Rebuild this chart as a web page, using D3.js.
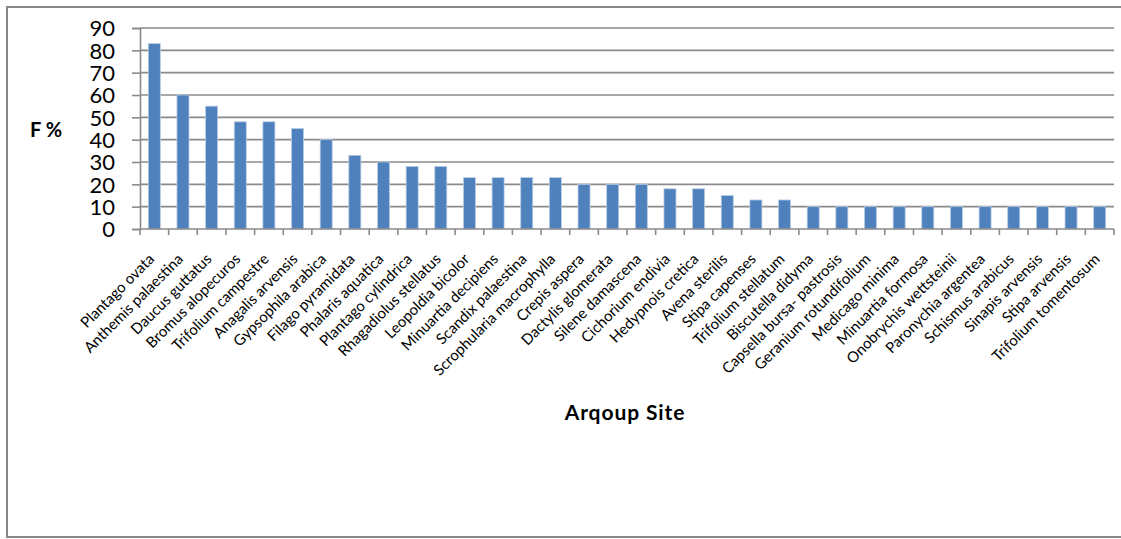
<!DOCTYPE html>
<html>
<head>
<meta charset="utf-8">
<script src="https://cdn.jsdelivr.net/npm/d3@7"></script>
<style>
  html, body { margin: 0; padding: 0; background: #fff; }
  svg { display: block; }
</style>
</head>
<body>
<svg id="chart" width="1121" height="539"></svg>
<script>
// Species recorded at the Arqoup site and their frequency (F %)
const species = [
  "Plantago ovata", "Anthemis palaestina", "Daucus guttatus", "Bromus alopecuros",
  "Trifolium campestre", "Anagalis arvensis", "Gypsophila arabica", "Filago pyramidata",
  "Phalaris aquatica", "Plantago cylindrica", "Rhagadiolus stellatus", "Leopoldia bicolor",
  "Minuartia decipiens", "Scandix palaestina", "Scrophularia macrophylla", "Crepis aspera",
  "Dactylis glomerata", "Silene damascena", "Cichorium endivia", "Hedypnois cretica",
  "Avena sterilis", "Stipa capenses", "Trifolium stellatum", "Biscutella didyma",
  "Capsella bursa- pastrosis", "Geranium rotundifolium", "Medicago minima", "Minuartia formosa",
  "Onobrychis wettsteinii", "Paronychia argentea", "Schismus arabicus", "Sinapis arvensis",
  "Stipa arvensis", "Trifolium tomentosum"
];
const frequency = [
  83, 60, 55, 48,
  48, 45, 40, 33,
  30, 28, 28, 23,
  23, 23, 23, 20,
  20, 20, 18, 18,
  15, 13, 13, 10,
  10, 10, 10, 10,
  10, 10, 10, 10,
  10, 10
];
const yTicks = [0, 10, 20, 30, 40, 50, 60, 70, 80, 90];

const svg = d3.select("#chart");
const font = "Lato, 'Open Sans', sans-serif";
const gridColor = "#8a8a8a";

// outer chart frame
svg.append("rect")
  .attr("x", 7).attr("y", 7)
  .attr("width", 1125).attr("height", 530)
  .attr("fill", "#fff")
  .attr("stroke", "#878787").attr("stroke-width", 2);

const plot = { left: 140, right: 1114, top: 28, bottom: 229 };

const x = d3.scaleBand()
  .domain(species)
  .range([plot.left, plot.right])
  .paddingInner(0.58).paddingOuter(0.29);

const y = d3.scaleLinear()
  .domain([0, 90])
  .range([plot.bottom, plot.top]);

// horizontal gridlines
svg.append("g")
  .selectAll("line")
  .data(yTicks.filter(d => d > 0))
  .join("line")
  .attr("x1", plot.left).attr("x2", plot.right)
  .attr("y1", d => y(d)).attr("y2", d => y(d))
  .attr("stroke", gridColor).attr("stroke-width", 1.6);

// bars
svg.append("g")
  .selectAll("rect")
  .data(frequency)
  .join("rect")
  .attr("x", (d, i) => x(species[i]))
  .attr("y", d => y(d))
  .attr("width", x.bandwidth())
  .attr("height", d => y(0) - y(d))
  .attr("fill", "#4f81bd")
  .attr("stroke", "#b9cde5")
  .attr("stroke-width", 0.8);

// y axis
const yAxis = d3.axisLeft(y)
  .tickValues(yTicks)
  .tickSize(8)
  .tickPadding(17)
  .tickFormat(d3.format("d"));

const gy = svg.append("g")
  .attr("transform", `translate(${plot.left},0)`)
  .call(yAxis);
gy.select(".domain").attr("stroke", gridColor).attr("stroke-width", 1.6);
gy.selectAll(".tick line").attr("stroke", gridColor).attr("stroke-width", 1.6);
gy.selectAll(".tick text")
  .attr("font-family", font)
  .attr("font-size", 22)
  .attr("fill", "#000")
  .attr("dy", "0.36em");

// x axis line with tick marks at category boundaries
const step = x.step();
const boundaries = d3.range(species.length + 1).map(i => plot.left + i * step);
const gx = svg.append("g");
gx.append("line")
  .attr("x1", plot.left).attr("x2", plot.right)
  .attr("y1", plot.bottom).attr("y2", plot.bottom)
  .attr("stroke", gridColor).attr("stroke-width", 1.6);
gx.selectAll("line.tk")
  .data(boundaries)
  .join("line")
  .attr("class", "tk")
  .attr("x1", d => d).attr("x2", d => d)
  .attr("y1", plot.bottom).attr("y2", plot.bottom + 6)
  .attr("stroke", gridColor).attr("stroke-width", 1.6);

// rotated category labels
gx.selectAll("text")
  .data(species)
  .join("text")
  .attr("transform", d => `translate(${x(d) + x.bandwidth() / 2 + 1},${plot.bottom + 31}) rotate(-45)`)
  .attr("text-anchor", "end")
  .attr("font-family", font)
  .attr("font-size", 15)
  .attr("fill", "#000")
  .text(d => d);

// axis titles
svg.append("text")
  .attr("x", 46).attr("y", 137)
  .attr("text-anchor", "middle")
  .attr("font-family", font)
  .attr("font-weight", "bold")
  .attr("font-size", 20)
  .text("F %");

svg.append("text")
  .attr("x", 625).attr("y", 420)
  .attr("text-anchor", "middle")
  .attr("font-family", font)
  .attr("font-weight", "bold")
  .attr("font-size", 21)
  .attr("letter-spacing", 0.9)
  .text("Arqoup Site");
</script>
</body>
</html>
